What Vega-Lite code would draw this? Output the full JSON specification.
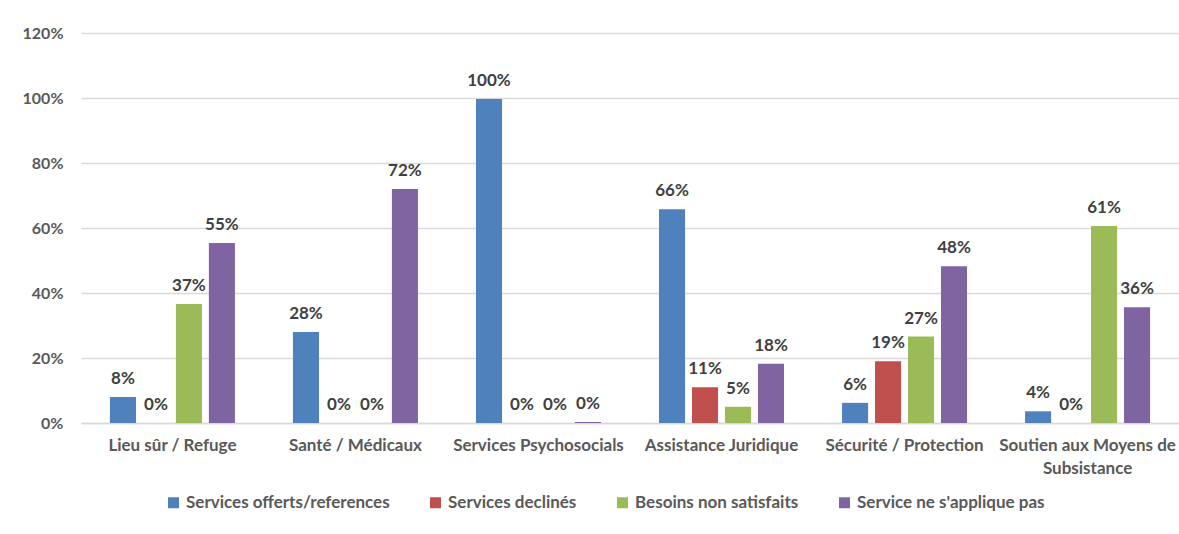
{
  "$schema": "https://vega.github.io/schema/vega-lite/v6.json",
  "width": 1098,
  "height": 390,
  "autosize": {"type": "none"},
  "padding": {"left": 81, "top": 33, "right": 0, "bottom": 111},
  "background": "white",
  "config": {"view": {"stroke": null}, "font": "Lato"},
  "data": {
    "values": [
      {"cat": "Lieu sûr / Refuge", "series": "Services offerts/references", "value": 0.08},
      {"cat": "Lieu sûr / Refuge", "series": "Services declinés", "value": 0},
      {"cat": "Lieu sûr / Refuge", "series": "Besoins non satisfaits", "value": 0.366},
      {"cat": "Lieu sûr / Refuge", "series": "Service ne s'applique pas", "value": 0.554},
      {"cat": "Santé / Médicaux", "series": "Services offerts/references", "value": 0.28},
      {"cat": "Santé / Médicaux", "series": "Services declinés", "value": 0},
      {"cat": "Santé / Médicaux", "series": "Besoins non satisfaits", "value": 0},
      {"cat": "Santé / Médicaux", "series": "Service ne s'applique pas", "value": 0.72},
      {"cat": "Services Psychosocials", "series": "Services offerts/references", "value": 0.997},
      {"cat": "Services Psychosocials", "series": "Services declinés", "value": 0},
      {"cat": "Services Psychosocials", "series": "Besoins non satisfaits", "value": 0},
      {"cat": "Services Psychosocials", "series": "Service ne s'applique pas", "value": 0.003},
      {"cat": "Assistance Juridique", "series": "Services offerts/references", "value": 0.658},
      {"cat": "Assistance Juridique", "series": "Services declinés", "value": 0.11},
      {"cat": "Assistance Juridique", "series": "Besoins non satisfaits", "value": 0.05},
      {"cat": "Assistance Juridique", "series": "Service ne s'applique pas", "value": 0.182},
      {"cat": "Sécurité / Protection", "series": "Services offerts/references", "value": 0.062},
      {"cat": "Sécurité / Protection", "series": "Services declinés", "value": 0.19},
      {"cat": "Sécurité / Protection", "series": "Besoins non satisfaits", "value": 0.266},
      {"cat": "Sécurité / Protection", "series": "Service ne s'applique pas", "value": 0.482},
      {"cat": "Soutien aux Moyens de Subsistance", "series": "Services offerts/references", "value": 0.036},
      {"cat": "Soutien aux Moyens de Subsistance", "series": "Services declinés", "value": 0},
      {"cat": "Soutien aux Moyens de Subsistance", "series": "Besoins non satisfaits", "value": 0.606},
      {"cat": "Soutien aux Moyens de Subsistance", "series": "Service ne s'applique pas", "value": 0.356}
    ]
  },
  "encoding": {
    "x": {
      "field": "cat",
      "type": "nominal",
      "sort": ["Lieu sûr / Refuge", "Santé / Médicaux", "Services Psychosocials", "Assistance Juridique", "Sécurité / Protection", "Soutien aux Moyens de Subsistance"],
      "scale": {"paddingInner": 0.317, "paddingOuter": 0.158},
      "axis": {
        "title": null,
        "labelAngle": 0,
        "ticks": false,
        "domain": true,
        "domainColor": "#d9d9d9",
        "domainWidth": 1.5,
        "labelFont": "Lato",
        "labelFontSize": 17,
        "labelFontWeight": "bold",
        "labelColor": "#595959",
        "labelPadding": 14,
        "labelLimit": 400,
        "labelLineHeight": 23,
        "labelExpr": "datum.label == 'Soutien aux Moyens de Subsistance' ? ['Soutien aux Moyens de', 'Subsistance'] : datum.label"
      }
    },
    "xOffset": {
      "field": "series",
      "type": "nominal",
      "sort": ["Services offerts/references", "Services declinés", "Besoins non satisfaits", "Service ne s'applique pas"],
      "scale": {"paddingInner": 0.21, "paddingOuter": 0}
    },
    "y": {
      "field": "value",
      "type": "quantitative",
      "scale": {"domain": [0, 1.2], "nice": false},
      "axis": {
        "title": null,
        "format": ".0%",
        "values": [0, 0.2, 0.4, 0.6, 0.8, 1.0, 1.2],
        "ticks": false,
        "domain": false,
        "grid": true,
        "gridColor": "#d9d9d9",
        "gridWidth": 1.5,
        "labelFont": "Lato",
        "labelFontSize": 16,
        "labelFontWeight": "bold",
        "labelColor": "#595959",
        "labelPadding": 18
      }
    }
  },
  "layer": [
    {
      "mark": {"type": "bar"},
      "encoding": {
        "color": {
          "field": "series",
          "type": "nominal",
          "sort": ["Services offerts/references", "Services declinés", "Besoins non satisfaits", "Service ne s'applique pas"],
          "scale": {
            "domain": ["Services offerts/references", "Services declinés", "Besoins non satisfaits", "Service ne s'applique pas"],
            "range": ["#4F81BD", "#C0504D", "#9BBB59", "#8064A2"]
          },
          "legend": {
            "title": null,
            "orient": "none",
            "direction": "horizontal",
            "legendX": 84,
            "legendY": 461,
            "symbolType": "square",
            "symbolSize": 121,
            "symbolStrokeWidth": 0,
            "labelFont": "Lato",
            "labelFontSize": 17,
            "labelFontWeight": "bold",
            "labelColor": "#595959",
            "labelOffset": 4,
            "columnPadding": 37,
            "labelLimit": 400
          }
        }
      }
    },
    {
      "mark": {"type": "text", "dy": -13, "baseline": "alphabetic", "font": "Lato", "fontSize": 17, "fontWeight": "bold", "color": "#404040"},
      "encoding": {
        "text": {"field": "value", "type": "quantitative", "format": ".0%"}
      }
    }
  ]
}
